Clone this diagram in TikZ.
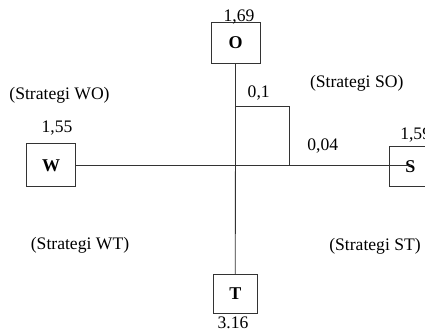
\documentclass[tikz,border=0pt]{standalone}
\usepackage{fontspec}
\setmainfont{Liberation Serif}
\usepackage{tikz}
\usetikzlibrary{positioning, calc}
\tikzstyle{letterbox}=[rectangle,draw=black!80,line width=0.6pt,font=\bfseries\fontsize{13.5}{15}\selectfont,inner sep=0pt]
\tikzstyle{numlabel}=[inner sep=0pt,font=\fontsize{13.2}{15}\selectfont]
\tikzstyle{axisline}=[-,draw=black!80,line width=0.6pt]

\begin{document}
\begin{tikzpicture}[x=0.75pt,y=-0.75pt]
        \useasboundingbox (0,0) rectangle (425,331);
        \clip (0,0) rectangle (425,331);
        \node[letterbox, minimum width=36.75pt, minimum height=30.75pt] (O) at (235.5,43) {O};
        \node[letterbox, minimum width=36.75pt, minimum height=32.25pt] (W) at (51,165.3) {W};
        \node[letterbox, minimum width=33pt, minimum height=29.25pt] (T) at (235.3,293.7) {T};
        \node[letterbox, minimum width=32.25pt, minimum height=30pt] (S) at (410.5,166.3) {S};
        
        \coordinate (c) at (235.3,165.3);
        \coordinate (q1) at (235.3,106);
        \coordinate (q2) at (289.3,106);
        \coordinate (q3) at (289.3,165.3);
        
        \path[axisline]
            (O) edge (T)
            (W) edge (S |- c);
        \draw[axisline] (q1) -- (q2) -- (q3);
        
        \node[numlabel] (o69) at (239,17) {1,69};
        \node[numlabel] (w55) at (57,128) {1,55};
        \node[numlabel, anchor=west] (s59) at (400,135) {1,59};
        \node[numlabel] (t16) at (233,322.5) {3.16};
        \node[numlabel] (v01) at (258.7,93) {0,1};
        \node[numlabel] (v004) at (322.7,146) {0,04};
        
        \node[numlabel] (wo) at (59.5,95) {(Strategi WO)};
        \node[numlabel] (so) at (356.7,83) {(Strategi SO)};
        \node[numlabel] (wt) at (80,245) {(Strategi WT)};
        \node[numlabel] (st) at (375,246.7) {(Strategi ST)};
    \end{tikzpicture}
\end{document}
